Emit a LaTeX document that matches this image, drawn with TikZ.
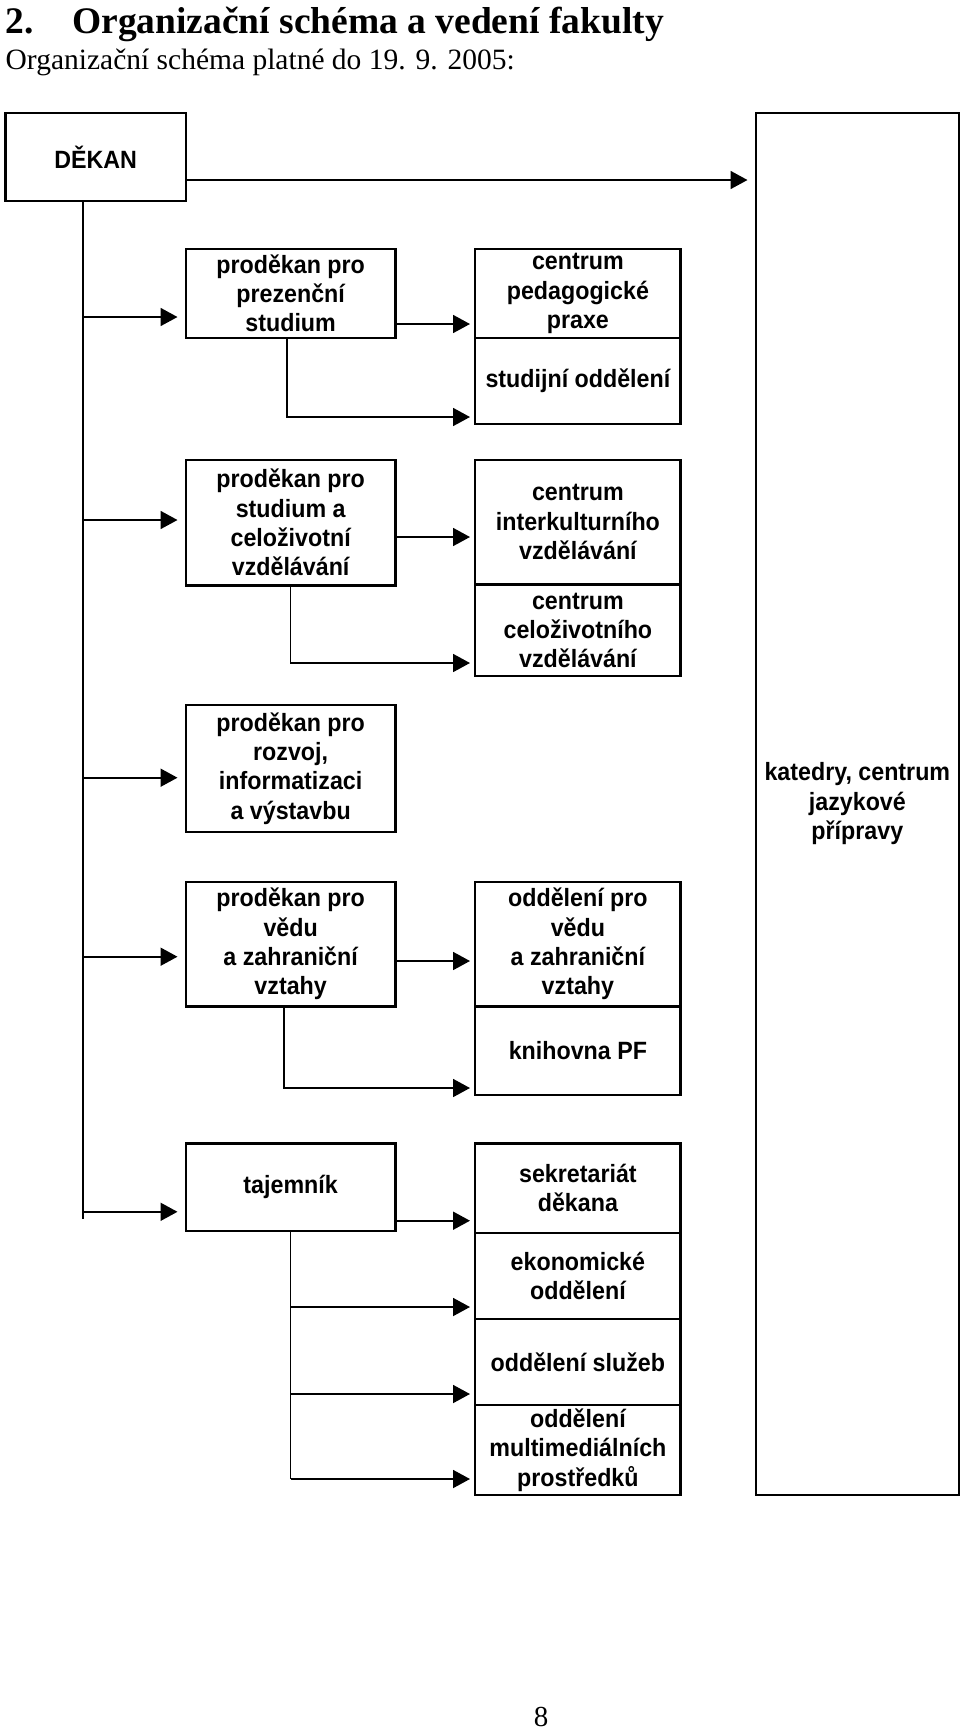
\documentclass[tikz,border=0pt]{standalone}
\usepackage{fontspec}
\setmainfont{Liberation Serif}
\newfontfamily\boxfont[FakeStretch=0.93]{Liberation Sans}
\usetikzlibrary{arrows.meta}
\begin{document}
\begin{tikzpicture}[x=1pt,y=-1pt,
  box/.style={draw, line width=2.4pt, inner sep=0pt, align=center,
    font=\boxfont\bfseries\fontsize{25}{29.3}\selectfont, anchor=north west},
  conn/.style={line width=1.8pt},
  arr/.style={conn, -{Triangle[length=17pt,width=18pt]}, shorten >=4pt},
  tarr/.style={arr, shorten >=7pt},
]
\useasboundingbox (0,0) rectangle (960,1733);
% titles
\node[anchor=base west, inner sep=0pt, font=\bfseries\fontsize{37.5}{40}\selectfont] (tnum) at (5.5,33) {2.};
\node[anchor=base west, inner sep=0pt, font=\bfseries\fontsize{37.5}{40}\selectfont] (title) at (72,33) {Organizační schéma a vedení fakulty};
\node[anchor=base west, inner sep=0pt, font=\fontsize{29.5}{32}\selectfont] (sub) at (5.5,69.6) {Organizační schéma platné do 19. 9. 2005:};
\node[anchor=base, inner sep=0pt, font=\fontsize{29}{32}\selectfont] (pg) at (541,1726) {8};
% boxes
\node[box, minimum width=180.1pt, minimum height=88.4pt] (dekan) at (4.4,111.6) {DĚKAN};
\node[box, minimum width=203.3pt, minimum height=1382pt] (kat) at (754.5,111.6) {katedry, centrum\\jazykové\\přípravy};
\node[box, minimum width=209.9pt, minimum height=89.5pt] (p1) at (184.5,247.5) {proděkan pro\\prezenční\\studium};
\node[box, minimum width=205.4pt, minimum height=89.5pt] (r1a) at (474,247.5) {centrum\\pedagogické\\praxe};
\node[box, minimum width=205.4pt, minimum height=86pt] (r1b) at (474,337) {studijní oddělení};
\node[box, minimum width=209.9pt, minimum height=125.9pt] (p2) at (184.5,458.5) {proděkan pro\\studium a\\celoživotní\\vzdělávání};
\node[box, minimum width=205.4pt, minimum height=124.8pt] (r2a) at (474,458.5) {centrum\\interkulturního\\vzdělávání};
\node[box, minimum width=205.4pt, minimum height=91.7pt] (r2b) at (474,583.3) {centrum\\celoživotního\\vzdělávání};
\node[box, minimum width=209.9pt, minimum height=127pt] (p3) at (184.5,703.7) {proděkan pro\\rozvoj,\\informatizaci\\a výstavbu};
\node[box, minimum width=209.9pt, minimum height=124.8pt] (p4) at (184.5,880.5) {proděkan pro\\vědu\\a zahraniční\\vztahy};
\node[box, minimum width=205.4pt, minimum height=124.8pt] (r4a) at (474,880.5) {oddělení pro\\vědu\\a zahraniční\\vztahy};
\node[box, minimum width=205.4pt, minimum height=88.4pt] (r4b) at (474,1005.3) {knihovna PF};
\node[box, minimum width=209.9pt, minimum height=87.2pt] (p5) at (184.5,1142.3) {tajemník};
\node[box, minimum width=205.4pt, minimum height=89.4pt] (r5a) at (474,1142.3) {sekretariát\\děkana};
\node[box, minimum width=205.4pt, minimum height=86.3pt] (r5b) at (474,1231.7) {ekonomické\\oddělení};
\node[box, minimum width=205.4pt, minimum height=86pt] (r5c) at (474,1318) {oddělení služeb};
\node[box, minimum width=205.4pt, minimum height=89.6pt] (r5d) at (474,1404) {oddělení\\multimediálních\\prostředků};
% trunk
\coordinate (tb) at (83,1218.5);
\draw[conn] (tb |- dekan.south) -- (tb);
\coordinate (yd) at (0,180);
\draw[tarr] (dekan.east |- yd) -- (kat.west |- yd);
\coordinate (t1) at (83,317);
\coordinate (t2) at (83,520);
\coordinate (t3) at (83,777.7);
\coordinate (t4) at (83,956.7);
\coordinate (t5) at (83,1211.8);
\draw[tarr] (t1) -- (p1.west |- t1);
\draw[tarr] (t2) -- (p2.west |- t2);
\draw[tarr] (t3) -- (p3.west |- t3);
\draw[tarr] (t4) -- (p4.west |- t4);
\draw[tarr] (t5) -- (p5.west |- t5);
% horizontal
\coordinate (h1) at (0,324);
\coordinate (h2) at (0,537);
\coordinate (h4) at (0,961);
\coordinate (h5) at (0,1220.7);
\draw[arr] (p1.east |- h1) -- (r1a.west |- h1);
\draw[arr] (p2.east |- h2) -- (r2a.west |- h2);
\draw[arr] (p4.east |- h4) -- (r4a.west |- h4);
\draw[arr] (p5.east |- h5) -- (r5a.west |- h5);
% elbows
\coordinate (e1) at (287,417);
\coordinate (e2) at (290.5,663);
\coordinate (e4) at (284,1088);
\draw[arr] (p1.south -| e1) -- (e1) -- (r1b.west |- e1);
\draw[arr] (p2.south -| e2) -- (e2) -- (r2b.west |- e2);
\draw[arr] (p4.south -| e4) -- (e4) -- (r4b.west |- e4);
\coordinate (e5a) at (290.5,1307);
\coordinate (e5b) at (290.5,1394);
\coordinate (e5c) at (290.5,1479);
\draw[conn] (p5.south -| e5c) -- (e5c);
\draw[arr] (e5a) -- (r5b.west |- e5a);
\draw[arr] (e5b) -- (r5c.west |- e5b);
\draw[arr] (e5c) -- (r5d.west |- e5c);
\end{tikzpicture}
\end{document}
